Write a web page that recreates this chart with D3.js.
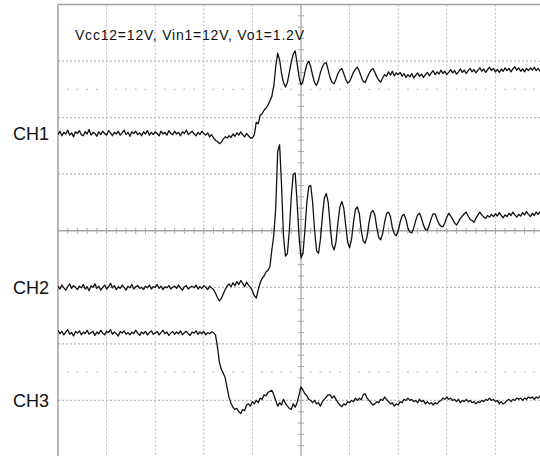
<!DOCTYPE html>
<html><head><meta charset="utf-8">
<script src="https://cdn.jsdelivr.net/npm/d3@7"></script>
<style>html,body{margin:0;padding:0;background:#fff;}svg{display:block;}</style>
</head><body>
<script>
// Oscilloscope capture: time in divisions (sample step dt), amplitude in 1/100 division
const dt = 0.04;
const title = "Vcc12=12V, Vin1=12V, Vo1=1.2V";
const channelNames = ["CH1", "CH2", "CH3"];
const channelRefs = [172, -100, -300];
const timeGrid = [0,1,2,3,4,6,7,8,9,10];
const levelGrid = [-300,-200,-100,100,200,300,400];
const markerLevels = [250, -250];

const ch1 = [
170,176,168,174,171,178,169,173,166,175,
172,177,170,168,175,171,179,169,174,172,
167,175,170,176,172,169,177,173,168,174,
171,176,169,173,178,170,174,167,175,172,
176,170,173,168,175,171,177,169,174,170,
175,172,168,176,171,174,169,177,172,170,
176,171,174,168,175,172,178,170,173,176,
171,168,174,170,176,172,169,173,166,170,
164,160,158,154,156,162,166,164,168,165,
171,167,173,169,175,170,166,172,168,164,
164,170,192,189,204,207,213,217,222,230,
238,256,290,314,302,278,262,254,262,280,
298,312,318,296,272,258,264,280,294,300,
290,274,262,257,266,280,290,296,297,284,
270,262,260,268,278,284,287,278,268,261,
264,272,280,286,289,282,272,264,262,270,
278,284,287,280,272,266,263,270,276,273,
281,275,282,274,279,276,280,273,278,271,
276,272,278,270,275,279,273,277,271,276,
280,274,279,283,276,281,277,284,278,282,
276,280,285,279,283,277,281,286,280,284,
278,283,287,281,285,279,284,288,282,286,
280,285,289,283,287,281,285,280,286,282,
288,283,287,281,286,290,284,288,282,286,
281,287,283,288,284,289,283,287,282,286,
284];

const ch2 = [
-98,-103,-96,-101,-105,-99,-94,-102,-97,-100,
-104,-98,-101,-95,-103,-99,-106,-97,-100,-94,
-102,-98,-105,-100,-96,-103,-99,-93,-101,-97,
-104,-99,-102,-96,-100,-105,-98,-101,-95,-103,
-99,-97,-102,-100,-104,-98,-101,-96,-103,-99,
-100,-95,-102,-98,-104,-99,-101,-97,-103,-100,
-98,-102,-96,-101,-105,-99,-97,-103,-100,-98,
-101,-96,-103,-99,-102,-97,-100,-104,-98,-101,
-104,-110,-118,-124,-120,-112,-104,-98,-94,-99,
-92,-97,-90,-95,-88,-93,-99,-91,-96,-100,
-106,-115,-119,-104,-92,-84,-80,-73,-70,-64,
-34,-8,40,140,152,80,-10,-45,-40,0,
60,100,102,50,-10,-48,-40,0,50,78,
80,50,0,-35,-40,-15,25,58,66,50,
10,-25,-34,-20,15,42,52,40,10,-20,
-30,-15,15,38,42,30,0,-18,-22,-10,
15,32,36,28,5,-12,-16,-5,15,30,
33,25,5,-5,-9,0,15,26,29,20,
5,-2,-4,5,18,28,31,22,10,2,
1,10,22,30,30,20,12,8,7,14,
24,31,26,20,14,10,16,22,26,30,
33,26,20,18,15,22,28,33,28,24,
22,27,24,29,25,30,26,32,27,23,
28,25,31,27,33,28,24,29,26,32,
28,34,29,25,31,27,33,29,34,30,
32];

const ch3 = [
-176,-182,-178,-184,-179,-175,-183,-180,-186,-178,
-181,-177,-184,-179,-182,-176,-183,-180,-178,-185,
-179,-182,-176,-181,-184,-178,-180,-175,-183,-179,
-182,-186,-178,-181,-177,-183,-180,-184,-179,-182,
-176,-181,-185,-179,-182,-178,-184,-180,-177,-183,
-181,-178,-184,-180,-176,-182,-179,-185,-181,-178,
-183,-179,-182,-177,-184,-180,-178,-182,-185,-179,
-181,-177,-183,-179,-182,-178,-184,-180,-182,-179,
-180,-184,-205,-232,-245,-252,-260,-278,-295,-305,
-312,-316,-314,-320,-323,-316,-318,-308,-306,-310,
-302,-306,-300,-304,-296,-298,-290,-292,-286,-284,
-282,-290,-300,-310,-304,-308,-298,-305,-310,-314,
-316,-306,-312,-304,-290,-276,-282,-288,-292,-298,
-300,-304,-300,-306,-304,-310,-302,-298,-294,-290,
-290,-296,-292,-298,-304,-308,-311,-306,-308,-302,
-304,-300,-302,-296,-300,-296,-299,-290,-288,-296,
-300,-304,-308,-306,-302,-304,-298,-300,-294,-298,
-302,-306,-304,-310,-306,-308,-302,-304,-298,-300,
-296,-300,-298,-302,-300,-304,-298,-302,-300,-306,
-302,-306,-304,-308,-304,-306,-302,-300,-296,-298,
-294,-298,-296,-300,-298,-302,-298,-304,-300,-302,
-298,-302,-300,-304,-302,-306,-302,-304,-300,-302,
-298,-300,-296,-300,-298,-302,-300,-306,-302,-306,
-304,-300,-298,-302,-298,-300,-296,-298,-296,-300,
-296,-298,-294,-296,-294,-298,-294,-296,-292,-296,
-294];

const W = 540, H = 456;
const svg = d3.select("body").append("svg").attr("width", W).attr("height", H);
const x = d3.scaleLinear().domain([0, 10]).range([58, 544]);
const y = d3.scaleLinear().domain([400, -400]).range([4.5, 457]);

svg.append("defs").append("clipPath").attr("id","plot")
  .append("rect").attr("x", x(0)).attr("y", y(400)).attr("width", x(10)-x(0)).attr("height", y(-400)-y(400));

const g = svg.append("g");
// grid
g.selectAll("line.vg").data(timeGrid.filter(t => t > 0 && t < 10)).join("line")
  .attr("x1", d => x(d)).attr("x2", d => x(d)).attr("y1", y(400)).attr("y2", y(-400))
  .attr("stroke", "#b8b8b8").attr("stroke-width", 1).attr("stroke-dasharray", "2,2");
g.selectAll("line.hg").data(levelGrid.filter(v => v < 400)).join("line")
  .attr("x1", x(0)).attr("x2", x(10)).attr("y1", d => y(d)).attr("y2", d => y(d))
  .attr("stroke", "#b8b8b8").attr("stroke-width", 1.2).attr("stroke-dasharray", "2,2");
// marker dotted rows
const sub = d3.range(0, 10.001, 0.2);
markerLevels.forEach(v => {
  g.selectAll(null).data(sub.filter(t => Math.abs(t - Math.round(t)) > 0.05)).join("line")
    .attr("x1", d => x(d) - 1).attr("x2", d => x(d) + 1).attr("y1", y(v)).attr("y2", y(v))
    .attr("stroke", "#c4c4c4").attr("stroke-width", 1.2);
});
// frame
g.append("line").attr("x1", x(0)).attr("x2", x(0)).attr("y1", y(400)).attr("y2", y(-400))
  .attr("stroke", "#a0a0a0").attr("stroke-width", 1.5);
g.append("line").attr("x1", x(0)).attr("x2", x(10)).attr("y1", y(400)).attr("y2", y(400))
  .attr("stroke", "#a0a0a0").attr("stroke-width", 1.5);
// center axes with minor ticks
g.append("line").attr("x1", x(5)).attr("x2", x(5)).attr("y1", y(400)).attr("y2", y(-400))
  .attr("stroke", "#a8a8a8").attr("stroke-width", 1.3);
g.append("line").attr("x1", x(0)).attr("x2", x(10)).attr("y1", y(0)).attr("y2", y(0))
  .attr("stroke", "#a8a8a8").attr("stroke-width", 1.6);
g.selectAll("line.tx").data(sub).join("line")
  .attr("x1", d => x(d)).attr("x2", d => x(d)).attr("y1", y(0) - 3).attr("y2", y(0) + 3)
  .attr("stroke", "#a8a8a8").attr("stroke-width", 1);
g.selectAll("line.ty").data(d3.range(-400, 400.1, 20)).join("line")
  .attr("x1", x(5) - 3).attr("x2", x(5) + 3).attr("y1", d => y(d)).attr("y2", d => y(d))
  .attr("stroke", "#a8a8a8").attr("stroke-width", 1);

// traces
const line = d3.line().x((d, i) => x(i * dt)).y(d => y(d));
const traces = svg.append("g").attr("clip-path", "url(#plot)");
[ch1, ch2, ch3].forEach(s => {
  traces.append("path").datum(s).attr("d", line)
    .attr("fill", "none").attr("stroke", "#111").attr("stroke-width", 1.3)
    .attr("stroke-linejoin", "round");
});

// labels
svg.selectAll("text.ch").data(channelNames).join("text")
  .attr("x", 49).attr("y", (d, i) => y(channelRefs[i]) + 7)
  .attr("text-anchor", "end").attr("font-family", "Liberation Sans, Arial, sans-serif")
  .attr("font-size", 18).attr("fill", "#111").text(d => d);
svg.append("text").attr("x", 75).attr("y", 39.5)
  .attr("font-family", "Liberation Sans, Arial, sans-serif").attr("font-size", 14)
  .attr("textLength", 229).attr("lengthAdjust", "spacing")
  .attr("fill", "#111").text(title);
</script>
</body></html>
